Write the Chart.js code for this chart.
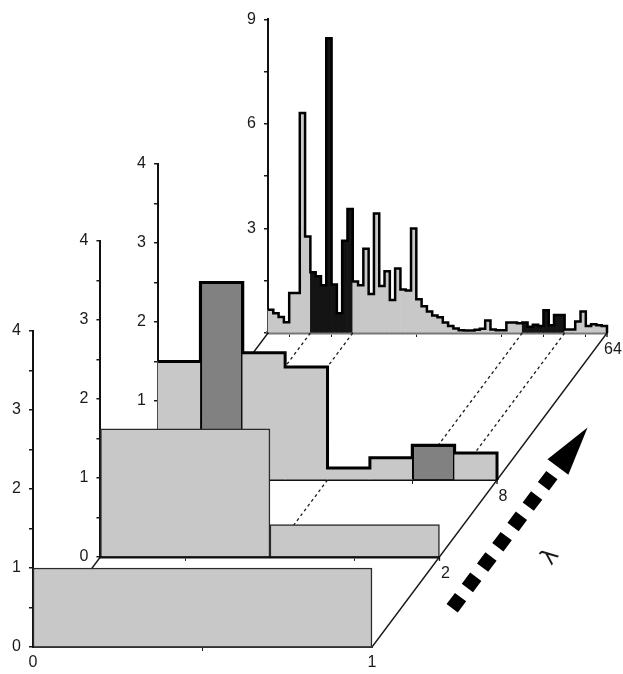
<!DOCTYPE html>
<html>
<head>
<meta charset="utf-8">
<title>Histograms over lambda</title>
<script src="https://cdn.jsdelivr.net/npm/chart.js@4.4.0/dist/chart.umd.min.js"></script>
<style>
  body { margin: 0; background: #fff; }
  #wrap { position: relative; width: 623px; height: 674px; overflow: hidden; }
  #wrap canvas { position: absolute; left: 0; top: 0; }
</style>
</head>
<body>
<div id="wrap">
  <canvas id="c64" width="623" height="674"></canvas>
  <canvas id="floor" width="623" height="674"></canvas>
  <canvas id="c8" width="623" height="674"></canvas>
  <canvas id="c2" width="623" height="674"></canvas>
  <canvas id="c1" width="623" height="674"></canvas>
</div>
<script>
// data: density histograms on [0,1] for each lambda
var lambdas = [1, 2, 8, 64];
var dens1 = [1.0];
var dens2 = [1.62, 0.41];
var dens8 = [1.5, 2.5, 1.61, 1.43, 0.15, 0.28, 0.44, 0.34];
var dens64 = [
  0.67, 0.57, 0.46, 0.31, 1.15, 1.15, 6.31, 2.77,
  1.74, 1.63, 1.37, 8.46, 1.39, 0.57, 2.65, 3.56,
  1.48, 1.37, 2.42, 1.12, 3.43, 1.35, 1.77, 0.95,
  1.85, 1.25, 1.22, 3.0, 0.97, 0.77, 0.62, 0.5,
  0.45, 0.3, 0.2, 0.13, 0.08, 0.07, 0.07, 0.09,
  0.12, 0.36, 0.1, 0.08, 0.08, 0.3, 0.3, 0.28,
  0.3, 0.18, 0.24, 0.2, 0.65, 0.22, 0.52, 0.52,
  0.1, 0.1, 0.33, 0.62, 0.2, 0.25, 0.22, 0.2
];
var darkBins8 = [1, 6];              // highlighted bins of the lambda = 8 histogram
var linkedEdges = [[], [], [0.5], [0.125, 0.25, 0.75, 0.875]];
var yTop = [4, 4, 4, 9];
var yStep = [0.5, 0.5, 0.5, 1.5];
var yLabelStep = [1, 1, 1, 3];

// layout
var front = { x: 33, y: 647 };       // origin of the lambda = 1 panel
var floorVec = { x: 235, y: -314 };  // from lambda = 1 origin to lambda = 64 origin
var depth = [0, 0.287, 0.532, 1];
var plotW = 339;
var unitPx = [79, 79, 79, 34.85];
var AXW = 30, AXH = 22;
var W = 623, H = 674;

var LIGHT = '#c8c8c8', MID = '#818181', DARK = '#141414', INK = '#1a1a1a';
var FONT = "'Liberation Sans', Arial, sans-serif";

var panelStyle = [
  { border: 1.5, step: 0, base: '#333', baseW: 2, xStep: 1 },
  { border: 1.5, step: 0, base: '#111', baseW: 2.5, xStep: 0.5 },
  { border: 0, step: 3, base: '#111', baseW: 3, xStep: 0.5 },
  { border: 0, step: 2.5, base: '#777', baseW: 3.5, xStep: 0.125 }
];

function stepPoints(vals) {
  var n = vals.length;
  var pts = vals.map(function (v, i) { return { x: i / n, y: v }; });
  pts.push({ x: 1, y: vals[n - 1] }, { x: 1, y: 0 });
  return pts;
}

function isDark(k, i, n) {
  if (k === 2) return darkBins8.indexOf(i) >= 0;
  if (k === 3) return darkBins8.indexOf(Math.floor(i * 8 / n)) >= 0;
  return false;
}

function makePanel(k, id, vals) {
  var st = panelStyle[k];
  var n = vals.length;
  var ox = front.x + depth[k] * floorVec.x;
  var oy = front.y + depth[k] * floorVec.y;
  var plotH = yTop[k] * unitPx[k];

  var fill = vals.map(function (v, i) {
    if (!isDark(k, i, n)) return LIGHT;
    return k === 2 ? MID : DARK;
  });
  var edge = vals.map(function (v, i) {
    if (k === 2) return isDark(k, i, n) ? '#000' : 'rgba(0,0,0,0)';
    return '#2a2a2a';
  });
  var edgeW = vals.map(function (v, i) {
    if (k === 2) return isDark(k, i, n) ? 2 : 0;
    return st.border;
  });

  var datasets = [{
    type: 'bar',
    data: vals.map(function (v, i) { return { x: (i + 0.5) / n, y: v }; }),
    backgroundColor: fill,
    borderColor: edge,
    borderWidth: edgeW,
    barPercentage: 1,
    categoryPercentage: 1,
    order: 2,
    clip: 10
  }];
  if (st.step) {
    datasets.push({
      type: 'line',
      data: stepPoints(vals),
      stepped: 'before',
      borderColor: '#000',
      borderWidth: st.step,
      borderJoinStyle: 'miter',
      pointRadius: 0,
      fill: false,
      order: 1,
      clip: 10
    });
  }

  var canvas = document.getElementById(id);
  var chart = new Chart(canvas, {
    type: 'bar',
    data: { datasets: datasets },
    options: {
      responsive: false,
      animation: false,
      devicePixelRatio: 1,
      events: [],
      layout: {
        padding: {
          left: ox - AXW,
          top: oy - plotH,
          right: W - ox - plotW,
          bottom: H - oy - AXH
        }
      },
      plugins: { legend: { display: false }, tooltip: { enabled: false } },
      scales: {
        x: {
          type: 'linear', min: 0, max: 1, offset: false,
          border: { color: st.base, width: st.baseW },
          grid: {
            drawOnChartArea: false, tickLength: 4, color: INK,
            tickColor: function (c) {
              var v = c.tick ? c.tick.value : 0;
              return (v === 0.375 || v === 0.625) ? 'rgba(0,0,0,0)' : INK;
            }
          },
          ticks: {
            stepSize: st.xStep, autoSkip: false, maxRotation: 0, color: INK, padding: 2,
            font: { family: FONT, size: 16 },
            callback: function (v) { return k === 0 ? String(v) : ''; }
          },
          afterFit: function (s) { s.height = AXH; }
        },
        y: {
          min: 0, max: yTop[k],
          border: { color: '#111', width: 2 },
          grid: { drawOnChartArea: false, tickLength: 4, color: INK, lineWidth: 1.5 },
          ticks: {
            stepSize: yStep[k], autoSkip: false, color: INK, padding: 8,
            font: { family: FONT, size: 16 },
            callback: function (v) {
              if (k === 3 && v === 0) return '';
              return v % yLabelStep[k] === 0 ? String(v) : '';
            }
          },
          afterFit: function (s) { s.width = AXW; }
        }
      }
    }
  });

  // nudge the canvas so the axis origin sits on the floor
  var dx = Math.round(ox - chart.scales.x.getPixelForValue(0));
  var dy = Math.round(oy - chart.scales.y.getPixelForValue(0));
  canvas.style.left = dx + 'px';
  canvas.style.top = dy + 'px';
  return { chart: chart, off: { x: dx, y: dy } };
}

var panels = [
  makePanel(0, 'c1', dens1),
  makePanel(1, 'c2', dens2),
  makePanel(2, 'c8', dens8),
  makePanel(3, 'c64', dens64)
];

function px(p, v) { return p.off.x + p.chart.scales.x.getPixelForValue(v); }
function py(p, v) { return p.off.y + p.chart.scales.y.getPixelForValue(v); }

function drawFloor() {
  var g = document.getElementById('floor').getContext('2d');
  var first = panels[0], last = panels[3];
  g.strokeStyle = INK;
  g.lineWidth = 1.4;

  // lambda axis along the right ends, back edge along the origins
  g.beginPath();
  g.moveTo(px(first, 1), py(first, 0));
  g.lineTo(px(last, 1), py(last, 0));
  g.moveTo(px(first, 0), py(first, 0));
  g.lineTo(px(last, 0), py(last, 0));
  g.stroke();

  // lambda tick marks and labels
  g.fillStyle = INK;
  g.font = '16px ' + FONT;
  g.textAlign = 'center';
  g.textBaseline = 'middle';
  for (var k = 1; k < panels.length; k++) {
    var x = px(panels[k], 1), y = py(panels[k], 0);
    g.beginPath(); g.moveTo(x, y); g.lineTo(x, y + 4); g.stroke();
    g.fillText(String(lambdas[k]), x + 6, y + 17);
  }

  // dotted links between matching bin edges
  g.save();
  g.setLineDash([3, 3]);
  g.lineWidth = 1.3;
  for (k = 1; k < panels.length; k++) {
    linkedEdges[k].forEach(function (e) {
      g.beginPath();
      g.moveTo(px(panels[k], e), py(panels[k], 0));
      g.lineTo(px(panels[k - 1], e), py(panels[k - 1], 0));
      g.stroke();
    });
  }
  g.restore();

  // direction of increasing lambda
  var ax = px(first, 1), ay = py(first, 0);
  var bx = px(last, 1), by = py(last, 0);
  var len = Math.hypot(bx - ax, by - ay);
  var u = { x: (bx - ax) / len, y: (by - ay) / len };
  var nv = { x: -u.y, y: u.x };
  function pt(along, perp) { return { x: ax + u.x * along + nv.x * perp, y: ay + u.y * along + nv.y * perp }; }

  var s = pt(79, 41), e = pt(246, 41);
  g.save();
  g.strokeStyle = '#000';
  g.lineWidth = 14;
  g.lineCap = 'butt';
  g.setLineDash([14, 11.4]);
  g.beginPath(); g.moveTo(s.x, s.y); g.lineTo(e.x, e.y); g.stroke();
  g.restore();

  var tip = pt(305, 41), c1 = pt(255.5, 28), c2 = pt(255.5, 54);
  g.fillStyle = '#000';
  g.beginPath(); g.moveTo(tip.x, tip.y); g.lineTo(c1.x, c1.y); g.lineTo(c2.x, c2.y); g.closePath(); g.fill();

  var lp = pt(179, 89);
  g.save();
  g.translate(lp.x, lp.y);
  g.rotate(Math.atan2(u.y, u.x));
  g.fillStyle = INK;
  g.font = "23px 'DejaVu Sans', sans-serif";
  g.textAlign = 'center';
  g.textBaseline = 'middle';
  g.fillText('λ', 0, 0);
  g.restore();
}

drawFloor();
</script>
</body>
</html>
